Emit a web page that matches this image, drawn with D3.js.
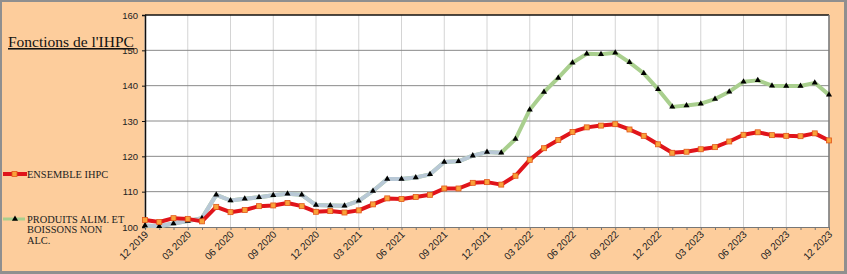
<!DOCTYPE html>
<html lang="fr">
<head>
  <meta charset="UTF-8">
  <title>Fonctions de l'IHPC</title>
  <style>
    body { margin: 0; background: #fff; }
    svg { display: block; }
    .ylab { font-family: Arial, 'Liberation Sans', sans-serif; font-size: 9.5px; fill: #222; }
    .xlab { font-family: Arial, 'Liberation Sans', sans-serif; font-size: 10px; fill: #222; }
    .leg { font-family: 'Times New Roman', 'Liberation Serif', serif; font-size: 10.4px; fill: #222; }
  </style>
</head>
<body>
  <div id="chart"></div>
  <script src="https://d3js.org/d3.v7.min.js"></script>
  <script>
    // mois de 12 2019 a 12 2023
    const months = [
      '12 2019','01 2020','02 2020','03 2020','04 2020','05 2020','06 2020','07 2020','08 2020','09 2020','10 2020','11 2020',
      '12 2020','01 2021','02 2021','03 2021','04 2021','05 2021','06 2021','07 2021','08 2021','09 2021','10 2021','11 2021',
      '12 2021','01 2022','02 2022','03 2022','04 2022','05 2022','06 2022','07 2022','08 2022','09 2022','10 2022','11 2022',
      '12 2022','01 2023','02 2023','03 2023','04 2023','05 2023','06 2023','07 2023','08 2023','09 2023','10 2023','11 2023',
      '12 2023'
    ];
    const ensemble = [
      102.0, 101.4, 102.5, 102.3, 101.6, 105.7, 104.2, 104.8, 105.9, 106.1, 106.8, 105.9,
      104.3, 104.5, 104.1, 104.7, 106.4, 108.1, 107.9, 108.5, 109.1, 110.9, 110.9, 112.5,
      112.7, 112.0, 114.5, 119.0, 122.3, 124.6, 126.9, 128.2, 128.7, 129.1, 127.6, 125.8,
      123.4, 121.0, 121.3, 122.0, 122.6, 124.2, 126.1, 126.8, 126.0, 125.8, 125.7, 126.5,
      124.5
    ];
    const alim = [
      100.4, 100.2, 101.0, 101.7, 102.5, 109.1, 107.5, 108.0, 108.4, 109.0, 109.4, 109.1,
      106.2, 106.1, 106.0, 107.4, 110.2, 113.6, 113.6, 114.0, 114.9, 118.4, 118.6, 120.2,
      121.2, 121.0, 124.9, 133.2, 138.2, 142.2, 146.5, 149.0, 148.9, 149.3, 146.6, 143.5,
      139.0, 134.0, 134.4, 134.9, 136.2, 138.3, 141.1, 141.5, 140.0, 139.9, 139.9, 140.8,
      137.4
    ];
    const yTicks = [100, 110, 120, 130, 140, 150, 160];
    const greyPart = 26; // le debut de la courbe alim est gris-bleu

    const W = 847, H = 274;
    const m = { left: 145, right: 829, top: 15, bottom: 227 };

    const svg = d3.select('#chart').append('svg').attr('width', W).attr('height', H);

    svg.append('rect').attr('width', W).attr('height', H).attr('fill', '#8f8f8f');
    svg.append('rect').attr('x', 2).attr('y', 2).attr('width', W - 5).attr('height', H - 5).attr('fill', '#fdcd9c');

    const x = d3.scalePoint().domain(d3.range(months.length)).range([m.left, m.right]);
    const y = d3.scaleLinear().domain([100, 160]).range([m.bottom, m.top]);

    svg.append('rect')
      .attr('x', m.left).attr('y', m.top)
      .attr('width', m.right - m.left).attr('height', m.bottom - m.top)
      .attr('fill', '#fff');

    // grille verticale tous les 3 mois
    svg.append('g').selectAll('line')
      .data(d3.range(0, months.length, 3))
      .join('line')
      .attr('x1', d => x(d)).attr('x2', d => x(d))
      .attr('y1', m.top).attr('y2', m.bottom)
      .attr('stroke', '#d4d4d4').attr('stroke-width', 1);

    // grille horizontale
    svg.append('g').selectAll('line')
      .data(yTicks.slice(1, -1))
      .join('line')
      .attr('x1', m.left).attr('x2', m.right)
      .attr('y1', d => y(d)).attr('y2', d => y(d))
      .attr('stroke', '#8a8a8a').attr('stroke-width', 1);

    // axe X
    const xAxis = svg.append('g').attr('transform', `translate(0,${m.bottom})`)
      .call(d3.axisBottom(x).tickSize(3).tickFormat(''));
    xAxis.select('.domain').attr('stroke', '#777');
    xAxis.selectAll('.tick line').attr('stroke', '#777');

    svg.append('g').selectAll('text')
      .data(d3.range(0, months.length, 3))
      .join('text')
      .attr('class', 'xlab')
      .attr('text-anchor', 'end')
      .attr('transform', d => `translate(${x(d) + 4},${m.bottom + 8}) rotate(-45)`)
      .text(d => months[d]);

    // bordures
    svg.append('line').attr('x1', m.left).attr('x2', m.right).attr('y1', m.top).attr('y2', m.top)
      .attr('stroke', '#111').attr('stroke-width', 1.5);
    svg.append('line').attr('x1', m.right).attr('x2', m.right).attr('y1', m.top).attr('y2', m.bottom)
      .attr('stroke', '#777').attr('stroke-width', 1.5);

    // axe Y
    const yAxis = svg.append('g').attr('transform', `translate(${m.left},0)`)
      .call(d3.axisLeft(y).tickValues(yTicks).tickSize(3).tickPadding(4));
    yAxis.select('.domain').attr('stroke', '#111').attr('stroke-width', 1.5);
    yAxis.selectAll('.tick line').attr('stroke', '#111');
    yAxis.selectAll('text').attr('class', 'ylab').attr('font-family', null).attr('font-size', null).attr('fill', null);

    const line = d3.line().x((d, i) => x(i)).y(d => y(d));

    // serie alimentaire
    svg.append('path').datum(alim)
      .attr('d', line).attr('fill', 'none')
      .attr('stroke', '#a9cf8e').attr('stroke-width', 4).attr('stroke-linejoin', 'round');
    svg.append('path').datum(alim.slice(0, greyPart))
      .attr('d', line).attr('fill', 'none')
      .attr('stroke', '#b8c8d6').attr('stroke-width', 4).attr('stroke-linejoin', 'round');
    const tri = d3.symbol().type(d3.symbolTriangle).size(16);
    svg.append('g').selectAll('path')
      .data(alim)
      .join('path')
      .attr('transform', (d, i) => `translate(${x(i)},${y(d)})`)
      .attr('d', tri).attr('fill', '#000');

    // serie ensemble
    svg.append('path').datum(ensemble)
      .attr('d', line).attr('fill', 'none')
      .attr('stroke', '#e0141b').attr('stroke-width', 4).attr('stroke-linejoin', 'round');
    svg.append('g').selectAll('rect')
      .data(ensemble)
      .join('rect')
      .attr('x', (d, i) => x(i) - 2.5).attr('y', d => y(d) - 2.5)
      .attr('width', 5).attr('height', 5)
      .attr('fill', '#f9a23a').attr('stroke', '#e2571a').attr('stroke-width', 0.8);

    // titre (cache en partie le libelle 150, comme dans l'original)
    svg.append('rect').attr('x', 6).attr('y', 31).attr('width', 126).attr('height', 17).attr('fill', '#fdcd9c');
    svg.append('text')
      .attr('x', 8).attr('y', 47)
      .attr('font-family', "'Times New Roman', 'Liberation Serif', serif")
      .attr('font-size', 15.5).attr('fill', '#111')
      .attr('text-decoration', 'underline')
      .text("Fonctions de l'IHPC");

    // legende
    const lg = svg.append('g');
    lg.append('line').attr('x1', 3).attr('x2', 27).attr('y1', 174).attr('y2', 174)
      .attr('stroke', '#e0141b').attr('stroke-width', 4);
    lg.append('rect').attr('x', 12).attr('y', 171.5).attr('width', 5).attr('height', 5)
      .attr('fill', '#f9a23a').attr('stroke', '#e2571a').attr('stroke-width', 0.8);
    lg.append('text').attr('class', 'leg').attr('x', 27).attr('y', 177.5).text('ENSEMBLE IHPC');

    lg.append('line').attr('x1', 3).attr('x2', 25).attr('y1', 219).attr('y2', 219)
      .attr('stroke', '#a9cf8e').attr('stroke-width', 3);
    lg.append('path').attr('transform', 'translate(15,219)').attr('d', tri).attr('fill', '#000');
    ['PRODUITS ALIM. ET', 'BOISSONS NON', 'ALC.'].forEach((t, i) => {
      lg.append('text').attr('class', 'leg').attr('x', 27).attr('y', 222.5 + i * 10.5).text(t);
    });
  </script>
</body>
</html>
